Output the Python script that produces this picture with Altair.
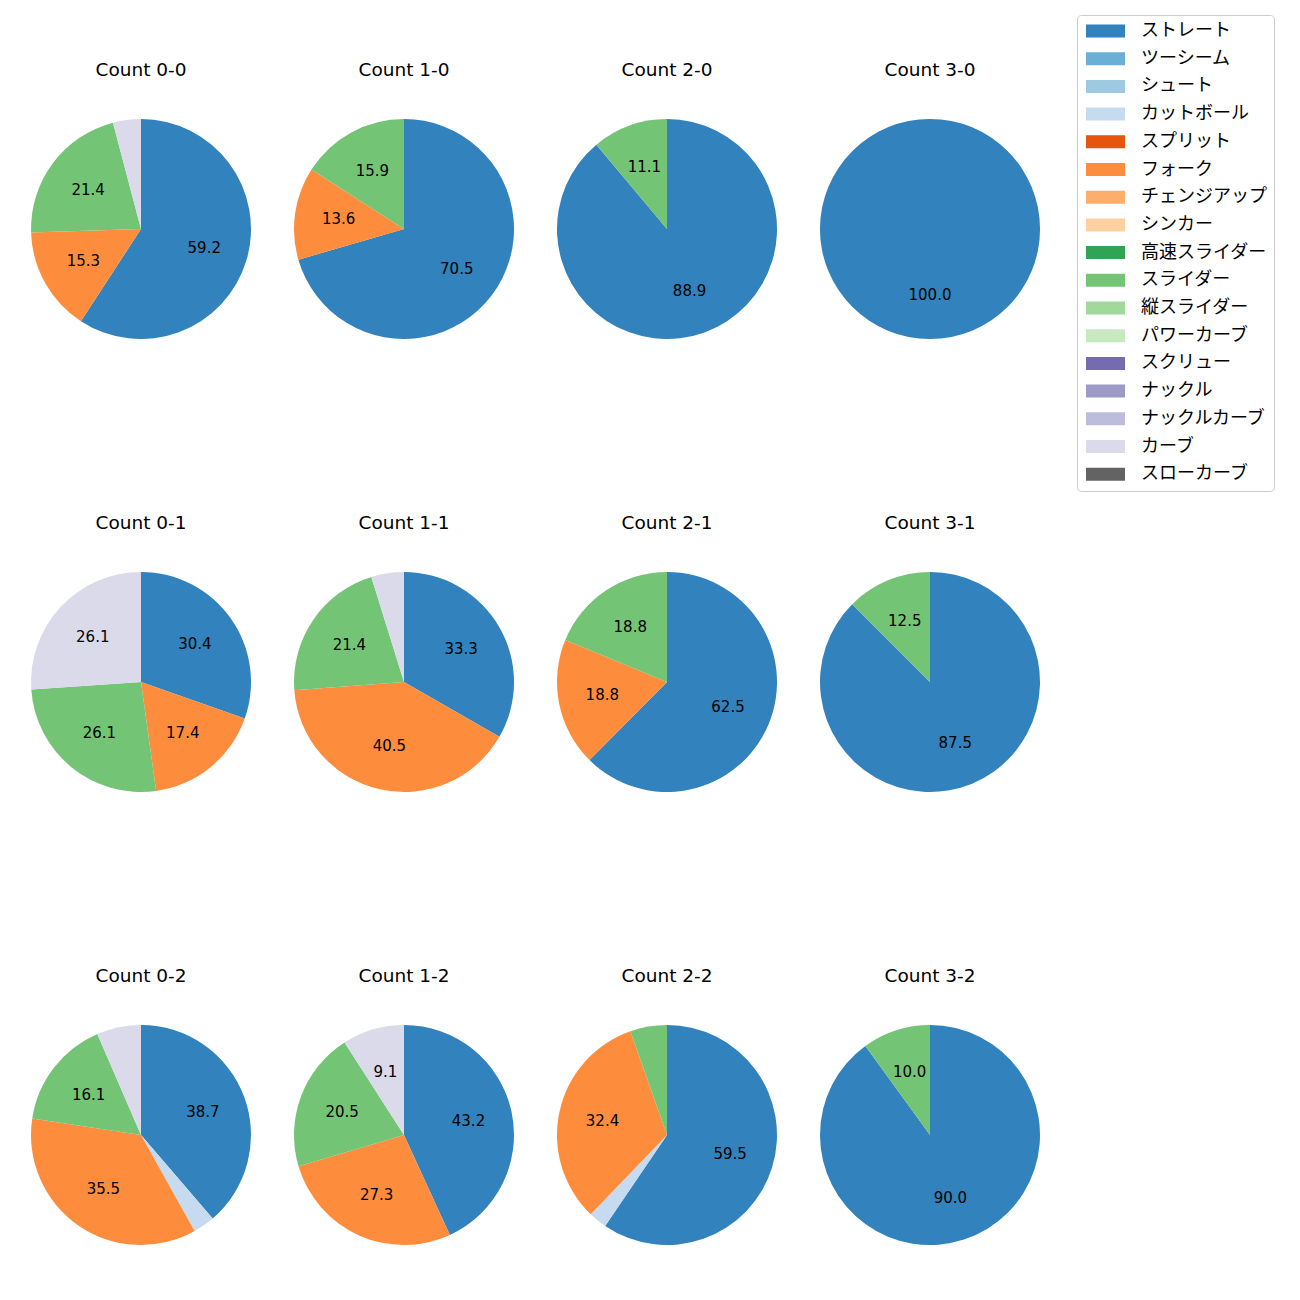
import altair as alt
import pandas as pd

pitches = ["ストレート", "ツーシーム", "シュート", "カットボール", "スプリット", "フォーク",
           "チェンジアップ", "シンカー", "高速スライダー", "スライダー", "縦スライダー",
           "パワーカーブ", "スクリュー", "ナックル", "ナックルカーブ", "カーブ", "スローカーブ"]
colors = ["#3182bd", "#6baed6", "#9ecae1", "#c6dbef", "#e6550d", "#fd8d3c",
          "#fdae6b", "#fdd0a2", "#31a354", "#74c476", "#a1d99b", "#c7e9c0",
          "#756bb1", "#9e9ac8", "#bcbddc", "#dadaeb", "#636363"]

counts = ["0-0", "1-0", "2-0", "3-0", "0-1", "1-1", "2-1", "3-1", "0-2", "1-2", "2-2", "3-2"]

# percentages per count (pitches with zero share are left out of the pies)
straight = [59.2, 70.5, 88.9, 100.0, 30.4, 33.3, 62.5, 87.5, 38.7, 43.2, 59.5, 90.0]
cutter   = [0, 0, 0, 0, 0, 0, 0, 0, 3.2, 0, 2.7, 0]
fork     = [15.3, 13.6, 0, 0, 17.4, 40.5, 18.8, 0, 35.5, 27.3, 32.4, 0]
slider   = [21.4, 15.9, 11.1, 0, 26.1, 21.4, 18.8, 12.5, 16.1, 20.5, 5.4, 10.0]
curve    = [4.1, 0, 0, 0, 26.1, 4.8, 0, 0, 6.5, 9.1, 0, 0]

series = {"ストレート": straight, "カットボール": cutter, "フォーク": fork,
          "スライダー": slider, "カーブ": curve}

rows = []
for i, c in enumerate(counts):
    for p, vals in series.items():
        v = vals[i]
        if v > 0:
            rows.append({"count": "Count " + c, "pitch": p, "idx": pitches.index(p),
                         "pct": v, "label": f"{v:.1f}" if v >= 8 else ""})
df = pd.DataFrame(rows)

LATIN = "DejaVu Sans, Noto Sans CJK JP"
CJK = "Noto Sans CJK JP"

base = alt.Chart().encode(
    theta=alt.Theta("pct:Q", stack=True),
    order=alt.Order("idx:Q", sort="ascending"),
)

pie = base.mark_arc(outerRadius=110).encode(
    color=alt.Color("pitch:N",
                    scale=alt.Scale(domain=pitches, range=colors),
                    legend=alt.Legend(title=None, orient="none", legendX=1046, legendY=-104,
                                      symbolType="M-1,-0.9286H4.5714V0.9286H-1Z",
                                      symbolSize=196, symbolStrokeWidth=0,
                                      labelFontSize=18, labelFont=CJK, labelOffset=39,
                                      labelColor="black",
                                      rowPadding=9.7, padding=7,
                                      strokeColor="#cccccc", cornerRadius=4,
                                      fillColor="white", labelLimit=300))
)

text = base.mark_text(radius=66, fontSize=15, font=LATIN, color="black").encode(
    text="label:N",
    detail="pitch:N",
)

chart = alt.layer(pie, text, data=df).properties(width=220, height=220).facet(
    facet=alt.Facet("count:N", sort=["Count " + c for c in counts],
                    header=alt.Header(title=None, labelFontSize=18.5, labelFont=LATIN,
                                      labelPadding=40, labelColor="black")),
    columns=4,
    spacing={"row": 174, "column": 43},
).properties(
    padding={"left": 23, "top": 6, "right": 10, "bottom": 10}
).configure_view(stroke=None)

chart.save("out.html", embed_options={"renderer": "svg", "actions": False})
